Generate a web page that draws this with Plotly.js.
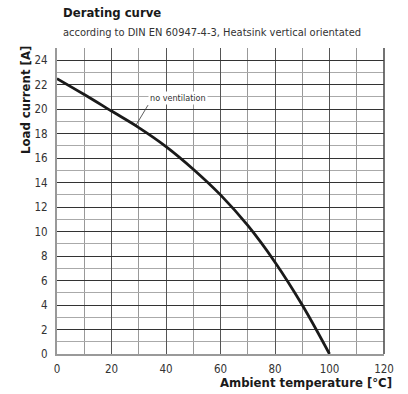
<!DOCTYPE html>
<html>
<head>
<meta charset="utf-8">
<script src="https://cdn.plot.ly/plotly-3.0.1.min.js"></script>
<style>html,body{margin:0;padding:0;background:#fff;}#chart{width:408px;height:394px;}</style>
</head>
<body>
<div id="chart"></div>
<script>
const temperature = [0, 10, 20, 30, 40, 50, 60, 70, 80, 90, 100];
const loadCurrent = [22.5, 21.2, 19.85, 18.5, 16.95, 15.1, 13.0, 10.5, 7.5, 4.0, 0];
const seriesLabel = "no ventilation";
const chartTitle = "Derating curve";
const chartSubtitle = "according to DIN EN 60947-4-3, Heatsink vertical orientated";
const xTitle = "Ambient temperature [°C]";
const yTitle = "Load current [A]";

const FONT = "'Liberation Sans Narrow', 'DejaVu Sans Condensed', sans-serif";

const trace = {
  x: temperature, y: loadCurrent, type: 'scatter', mode: 'lines',
  line: {color: '#1a1a1a', width: 2.8, shape: 'spline', smoothing: 1},
  hoverinfo: 'skip', showlegend: false
};

const layout = {
  width: 408, height: 394,
  margin: {l: 57, r: 24, t: 48, b: 40},
  paper_bgcolor: '#fff', plot_bgcolor: '#fff',
  font: {family: FONT, size: 11, color: '#333'},
  xaxis: {
    range: [0, 120], dtick: 20, tick0: 0, ticks: '', showgrid: true,
    gridcolor: '#555', gridwidth: 1,
    minor: {dtick: 10, showgrid: true, gridcolor: '#999', gridwidth: 1},
    showline: true, linecolor: '#999', linewidth: 2, mirror: false,
    zeroline: false, tickfont: {family: FONT, size: 11.5, color: '#333'},
    ticklabelstandoff: 3,
    fixedrange: true
  },
  yaxis: {
    range: [0, 25], dtick: 2, tick0: 0, ticks: '', showgrid: true,
    gridcolor: '#333', gridwidth: 1,
    minor: {dtick: 1, showgrid: true, gridcolor: '#aaa', gridwidth: 1},
    showline: true, linecolor: '#999', linewidth: 2,
    zeroline: false, tickfont: {family: FONT, size: 11.5, color: '#333'},
    ticklabelstandoff: 5,
    fixedrange: true
  },
  shapes: [
    {type: 'line', xref: 'paper', yref: 'paper', x0: 1, x1: 1, y0: 0, y1: 1,
     line: {color: '#444', width: 1.5}}
  ],
  annotations: [
    {text: '<b>' + chartTitle + '</b>', xref: 'paper', yref: 'paper', x: 0.012, y: 1.0, yshift: 26,
     xanchor: 'left', yanchor: 'bottom', showarrow: false,
     font: {family: FONT, size: 13, color: '#1a1a1a'}},
    {text: chartSubtitle, xref: 'paper', yref: 'paper', x: 0.012, y: 1.0, yshift: 7,
     xanchor: 'left', yanchor: 'bottom', showarrow: false,
     font: {family: FONT, size: 11, color: '#333'}},
    {text: '<b>' + xTitle + '</b>', xref: 'paper', yref: 'paper', x: 1.0, xshift: 10, y: 0, yshift: -19,
     xanchor: 'right', yanchor: 'top', showarrow: false,
     font: {family: FONT, size: 13, color: '#1a1a1a'}},
    {text: '<b>' + yTitle + '</b>', xref: 'paper', yref: 'paper', x: 0, xshift: -32, y: 1.0, yshift: 4,
     xanchor: 'center', yanchor: 'top', textangle: -90, showarrow: false,
     font: {family: FONT, size: 13, color: '#1a1a1a'}},
    {text: seriesLabel, x: 29, y: 18.7, xref: 'x', yref: 'y',
     showarrow: true, arrowhead: 0, arrowwidth: 0.8, arrowcolor: '#333',
     ax: 12, ay: -20, xanchor: 'left', yanchor: 'bottom', bgcolor: '#fff',
     font: {family: FONT, size: 9, color: '#333'}, borderpad: 1}
  ]
};

Plotly.newPlot('chart', [trace], layout, {displayModeBar: false, staticPlot: true});
</script>
</body>
</html>
